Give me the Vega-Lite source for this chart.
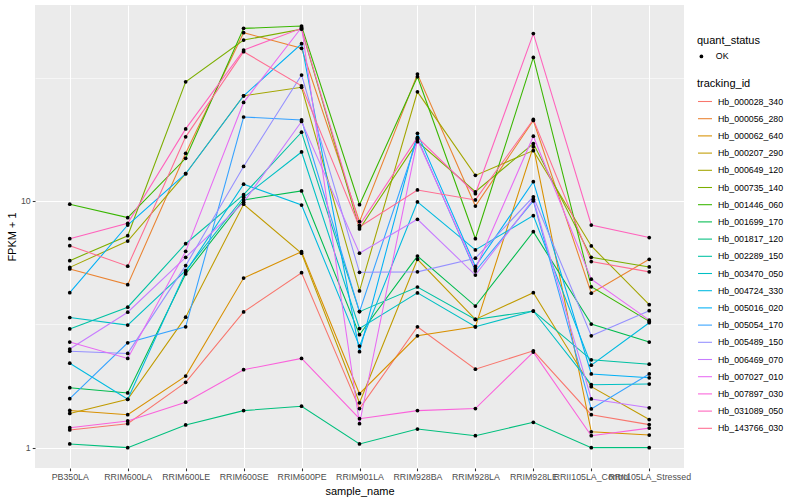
{
"$schema": "https://vega.github.io/schema/vega-lite/v6.json",
"width": 649, "height": 463,
"autosize": {"type": "none"},
"padding": {"left": 35, "top": 5, "right": 116, "bottom": 32},
"background": "white",
"config": {
  "view": {"fill": "#EBEBEB", "stroke": null},
  "font": "Liberation Sans",
  "axis": {"domain": false, "grid": true, "gridColor": "white", "gridWidth": 1.07, "tickColor": "#333333", "tickSize": 2.75, "tickWidth": 1.07, "labelColor": "#4D4D4D", "labelFontSize": 8.8, "titleFontSize": 11, "titleFontWeight": "normal", "titleColor": "black", "labelFont": "Liberation Sans", "titleFont": "Liberation Sans"},
  "legend": {"titleFontSize": 11, "titleFontWeight": "normal", "titleColor": "black", "labelFontSize": 8.8, "labelColor": "black", "padding": 0, "titlePadding": 6, "labelFont": "Liberation Sans", "titleFont": "Liberation Sans"}
},
"data": {"values": [
{"sample_name":"PB350LA","tracking_id":"Hb_000028_340","fpkm":1.18,"quant_status":"OK"},
{"sample_name":"RRIM600LA","tracking_id":"Hb_000028_340","fpkm":1.25,"quant_status":"OK"},
{"sample_name":"RRIM600LE","tracking_id":"Hb_000028_340","fpkm":1.84,"quant_status":"OK"},
{"sample_name":"RRIM600SE","tracking_id":"Hb_000028_340","fpkm":3.55,"quant_status":"OK"},
{"sample_name":"RRIM600PE","tracking_id":"Hb_000028_340","fpkm":5.12,"quant_status":"OK"},
{"sample_name":"RRIM901LA","tracking_id":"Hb_000028_340","fpkm":1.44,"quant_status":"OK"},
{"sample_name":"RRIM928BA","tracking_id":"Hb_000028_340","fpkm":3.09,"quant_status":"OK"},
{"sample_name":"RRIM928LA","tracking_id":"Hb_000028_340","fpkm":2.08,"quant_status":"OK"},
{"sample_name":"RRIM928LE","tracking_id":"Hb_000028_340","fpkm":2.47,"quant_status":"OK"},
{"sample_name":"RRII105LA_Control","tracking_id":"Hb_000028_340","fpkm":1.36,"quant_status":"OK"},
{"sample_name":"RRII105LA_Stressed","tracking_id":"Hb_000028_340","fpkm":1.24,"quant_status":"OK"},
{"sample_name":"PB350LA","tracking_id":"Hb_000056_280","fpkm":5.30,"quant_status":"OK"},
{"sample_name":"RRIM600LA","tracking_id":"Hb_000056_280","fpkm":4.58,"quant_status":"OK"},
{"sample_name":"RRIM600LE","tracking_id":"Hb_000056_280","fpkm":15.6,"quant_status":"OK"},
{"sample_name":"RRIM600SE","tracking_id":"Hb_000056_280","fpkm":48.1,"quant_status":"OK"},
{"sample_name":"RRIM600PE","tracking_id":"Hb_000056_280","fpkm":41.6,"quant_status":"OK"},
{"sample_name":"RRIM901LA","tracking_id":"Hb_000056_280","fpkm":8.25,"quant_status":"OK"},
{"sample_name":"RRIM928BA","tracking_id":"Hb_000056_280","fpkm":32.7,"quant_status":"OK"},
{"sample_name":"RRIM928LA","tracking_id":"Hb_000056_280","fpkm":9.54,"quant_status":"OK"},
{"sample_name":"RRIM928LE","tracking_id":"Hb_000056_280","fpkm":21.2,"quant_status":"OK"},
{"sample_name":"RRII105LA_Control","tracking_id":"Hb_000056_280","fpkm":4.23,"quant_status":"OK"},
{"sample_name":"RRII105LA_Stressed","tracking_id":"Hb_000056_280","fpkm":5.80,"quant_status":"OK"},
{"sample_name":"PB350LA","tracking_id":"Hb_000062_640","fpkm":1.415,"quant_status":"OK"},
{"sample_name":"RRIM600LA","tracking_id":"Hb_000062_640","fpkm":1.36,"quant_status":"OK"},
{"sample_name":"RRIM600LE","tracking_id":"Hb_000062_640","fpkm":1.95,"quant_status":"OK"},
{"sample_name":"RRIM600SE","tracking_id":"Hb_000062_640","fpkm":4.87,"quant_status":"OK"},
{"sample_name":"RRIM600PE","tracking_id":"Hb_000062_640","fpkm":6.23,"quant_status":"OK"},
{"sample_name":"RRIM901LA","tracking_id":"Hb_000062_640","fpkm":1.655,"quant_status":"OK"},
{"sample_name":"RRIM928BA","tracking_id":"Hb_000062_640","fpkm":2.84,"quant_status":"OK"},
{"sample_name":"RRIM928LA","tracking_id":"Hb_000062_640","fpkm":3.09,"quant_status":"OK"},
{"sample_name":"RRIM928LE","tracking_id":"Hb_000062_640","fpkm":16.6,"quant_status":"OK"},
{"sample_name":"RRII105LA_Control","tracking_id":"Hb_000062_640","fpkm":1.16,"quant_status":"OK"},
{"sample_name":"RRII105LA_Stressed","tracking_id":"Hb_000062_640","fpkm":1.125,"quant_status":"OK"},
{"sample_name":"PB350LA","tracking_id":"Hb_000207_290","fpkm":1.376,"quant_status":"OK"},
{"sample_name":"RRIM600LA","tracking_id":"Hb_000207_290","fpkm":1.571,"quant_status":"OK"},
{"sample_name":"RRIM600LE","tracking_id":"Hb_000207_290","fpkm":3.38,"quant_status":"OK"},
{"sample_name":"RRIM600SE","tracking_id":"Hb_000207_290","fpkm":9.70,"quant_status":"OK"},
{"sample_name":"RRIM600PE","tracking_id":"Hb_000207_290","fpkm":6.14,"quant_status":"OK"},
{"sample_name":"RRIM901LA","tracking_id":"Hb_000207_290","fpkm":1.52,"quant_status":"OK"},
{"sample_name":"RRIM928BA","tracking_id":"Hb_000207_290","fpkm":5.80,"quant_status":"OK"},
{"sample_name":"RRIM928LA","tracking_id":"Hb_000207_290","fpkm":3.31,"quant_status":"OK"},
{"sample_name":"RRIM928LE","tracking_id":"Hb_000207_290","fpkm":4.25,"quant_status":"OK"},
{"sample_name":"RRII105LA_Control","tracking_id":"Hb_000207_290","fpkm":1.767,"quant_status":"OK"},
{"sample_name":"RRII105LA_Stressed","tracking_id":"Hb_000207_290","fpkm":1.30,"quant_status":"OK"},
{"sample_name":"PB350LA","tracking_id":"Hb_000649_120","fpkm":5.38,"quant_status":"OK"},
{"sample_name":"RRIM600LA","tracking_id":"Hb_000649_120","fpkm":6.88,"quant_status":"OK"},
{"sample_name":"RRIM600LE","tracking_id":"Hb_000649_120","fpkm":12.9,"quant_status":"OK"},
{"sample_name":"RRIM600SE","tracking_id":"Hb_000649_120","fpkm":26.7,"quant_status":"OK"},
{"sample_name":"RRIM600PE","tracking_id":"Hb_000649_120","fpkm":28.9,"quant_status":"OK"},
{"sample_name":"RRIM901LA","tracking_id":"Hb_000649_120","fpkm":4.32,"quant_status":"OK"},
{"sample_name":"RRIM928BA","tracking_id":"Hb_000649_120","fpkm":27.7,"quant_status":"OK"},
{"sample_name":"RRIM928LA","tracking_id":"Hb_000649_120","fpkm":12.7,"quant_status":"OK"},
{"sample_name":"RRIM928LE","tracking_id":"Hb_000649_120","fpkm":16.0,"quant_status":"OK"},
{"sample_name":"RRII105LA_Control","tracking_id":"Hb_000649_120","fpkm":6.57,"quant_status":"OK"},
{"sample_name":"RRII105LA_Stressed","tracking_id":"Hb_000649_120","fpkm":3.80,"quant_status":"OK"},
{"sample_name":"PB350LA","tracking_id":"Hb_000735_140","fpkm":5.73,"quant_status":"OK"},
{"sample_name":"RRIM600LA","tracking_id":"Hb_000735_140","fpkm":7.23,"quant_status":"OK"},
{"sample_name":"RRIM600LE","tracking_id":"Hb_000735_140","fpkm":30.4,"quant_status":"OK"},
{"sample_name":"RRIM600SE","tracking_id":"Hb_000735_140","fpkm":44.9,"quant_status":"OK"},
{"sample_name":"RRIM600PE","tracking_id":"Hb_000735_140","fpkm":49.7,"quant_status":"OK"},
{"sample_name":"RRIM901LA","tracking_id":"Hb_000735_140","fpkm":7.70,"quant_status":"OK"},
{"sample_name":"RRIM928BA","tracking_id":"Hb_000735_140","fpkm":17.4,"quant_status":"OK"},
{"sample_name":"RRIM928LA","tracking_id":"Hb_000735_140","fpkm":10.9,"quant_status":"OK"},
{"sample_name":"RRIM928LE","tracking_id":"Hb_000735_140","fpkm":17.1,"quant_status":"OK"},
{"sample_name":"RRII105LA_Control","tracking_id":"Hb_000735_140","fpkm":5.91,"quant_status":"OK"},
{"sample_name":"RRII105LA_Stressed","tracking_id":"Hb_000735_140","fpkm":5.40,"quant_status":"OK"},
{"sample_name":"PB350LA","tracking_id":"Hb_001446_060","fpkm":9.70,"quant_status":"OK"},
{"sample_name":"RRIM600LA","tracking_id":"Hb_001446_060","fpkm":8.56,"quant_status":"OK"},
{"sample_name":"RRIM600LE","tracking_id":"Hb_001446_060","fpkm":14.9,"quant_status":"OK"},
{"sample_name":"RRIM600SE","tracking_id":"Hb_001446_060","fpkm":50.1,"quant_status":"OK"},
{"sample_name":"RRIM600PE","tracking_id":"Hb_001446_060","fpkm":51.2,"quant_status":"OK"},
{"sample_name":"RRIM901LA","tracking_id":"Hb_001446_060","fpkm":9.66,"quant_status":"OK"},
{"sample_name":"RRIM928BA","tracking_id":"Hb_001446_060","fpkm":31.9,"quant_status":"OK"},
{"sample_name":"RRIM928LA","tracking_id":"Hb_001446_060","fpkm":7.03,"quant_status":"OK"},
{"sample_name":"RRIM928LE","tracking_id":"Hb_001446_060","fpkm":38.2,"quant_status":"OK"},
{"sample_name":"RRII105LA_Control","tracking_id":"Hb_001446_060","fpkm":4.49,"quant_status":"OK"},
{"sample_name":"RRII105LA_Stressed","tracking_id":"Hb_001446_060","fpkm":3.25,"quant_status":"OK"},
{"sample_name":"PB350LA","tracking_id":"Hb_001699_170","fpkm":1.75,"quant_status":"OK"},
{"sample_name":"RRIM600LA","tracking_id":"Hb_001699_170","fpkm":1.666,"quant_status":"OK"},
{"sample_name":"RRIM600LE","tracking_id":"Hb_001699_170","fpkm":5.06,"quant_status":"OK"},
{"sample_name":"RRIM600SE","tracking_id":"Hb_001699_170","fpkm":10.1,"quant_status":"OK"},
{"sample_name":"RRIM600PE","tracking_id":"Hb_001699_170","fpkm":10.98,"quant_status":"OK"},
{"sample_name":"RRIM901LA","tracking_id":"Hb_001699_170","fpkm":2.87,"quant_status":"OK"},
{"sample_name":"RRIM928BA","tracking_id":"Hb_001699_170","fpkm":5.98,"quant_status":"OK"},
{"sample_name":"RRIM928LA","tracking_id":"Hb_001699_170","fpkm":3.75,"quant_status":"OK"},
{"sample_name":"RRIM928LE","tracking_id":"Hb_001699_170","fpkm":7.51,"quant_status":"OK"},
{"sample_name":"RRII105LA_Control","tracking_id":"Hb_001699_170","fpkm":3.17,"quant_status":"OK"},
{"sample_name":"RRII105LA_Stressed","tracking_id":"Hb_001699_170","fpkm":2.68,"quant_status":"OK"},
{"sample_name":"PB350LA","tracking_id":"Hb_001817_120","fpkm":1.035,"quant_status":"OK"},
{"sample_name":"RRIM600LA","tracking_id":"Hb_001817_120","fpkm":1.0,"quant_status":"OK"},
{"sample_name":"RRIM600LE","tracking_id":"Hb_001817_120","fpkm":1.236,"quant_status":"OK"},
{"sample_name":"RRIM600SE","tracking_id":"Hb_001817_120","fpkm":1.413,"quant_status":"OK"},
{"sample_name":"RRIM600PE","tracking_id":"Hb_001817_120","fpkm":1.472,"quant_status":"OK"},
{"sample_name":"RRIM901LA","tracking_id":"Hb_001817_120","fpkm":1.035,"quant_status":"OK"},
{"sample_name":"RRIM928BA","tracking_id":"Hb_001817_120","fpkm":1.19,"quant_status":"OK"},
{"sample_name":"RRIM928LA","tracking_id":"Hb_001817_120","fpkm":1.118,"quant_status":"OK"},
{"sample_name":"RRIM928LE","tracking_id":"Hb_001817_120","fpkm":1.267,"quant_status":"OK"},
{"sample_name":"RRII105LA_Control","tracking_id":"Hb_001817_120","fpkm":1.0,"quant_status":"OK"},
{"sample_name":"RRII105LA_Stressed","tracking_id":"Hb_001817_120","fpkm":1.0,"quant_status":"OK"},
{"sample_name":"PB350LA","tracking_id":"Hb_002289_150","fpkm":3.03,"quant_status":"OK"},
{"sample_name":"RRIM600LA","tracking_id":"Hb_002289_150","fpkm":3.71,"quant_status":"OK"},
{"sample_name":"RRIM600LE","tracking_id":"Hb_002289_150","fpkm":6.71,"quant_status":"OK"},
{"sample_name":"RRIM600SE","tracking_id":"Hb_002289_150","fpkm":10.6,"quant_status":"OK"},
{"sample_name":"RRIM600PE","tracking_id":"Hb_002289_150","fpkm":19.0,"quant_status":"OK"},
{"sample_name":"RRIM901LA","tracking_id":"Hb_002289_150","fpkm":3.56,"quant_status":"OK"},
{"sample_name":"RRIM928BA","tracking_id":"Hb_002289_150","fpkm":4.48,"quant_status":"OK"},
{"sample_name":"RRIM928LA","tracking_id":"Hb_002289_150","fpkm":3.31,"quant_status":"OK"},
{"sample_name":"RRIM928LE","tracking_id":"Hb_002289_150","fpkm":3.58,"quant_status":"OK"},
{"sample_name":"RRII105LA_Control","tracking_id":"Hb_002289_150","fpkm":2.27,"quant_status":"OK"},
{"sample_name":"RRII105LA_Stressed","tracking_id":"Hb_002289_150","fpkm":2.18,"quant_status":"OK"},
{"sample_name":"PB350LA","tracking_id":"Hb_003470_050","fpkm":3.37,"quant_status":"OK"},
{"sample_name":"RRIM600LA","tracking_id":"Hb_003470_050","fpkm":3.14,"quant_status":"OK"},
{"sample_name":"RRIM600LE","tracking_id":"Hb_003470_050","fpkm":5.22,"quant_status":"OK"},
{"sample_name":"RRIM600SE","tracking_id":"Hb_003470_050","fpkm":10.35,"quant_status":"OK"},
{"sample_name":"RRIM600PE","tracking_id":"Hb_003470_050","fpkm":15.8,"quant_status":"OK"},
{"sample_name":"RRIM901LA","tracking_id":"Hb_003470_050","fpkm":3.04,"quant_status":"OK"},
{"sample_name":"RRIM928BA","tracking_id":"Hb_003470_050","fpkm":4.24,"quant_status":"OK"},
{"sample_name":"RRIM928LA","tracking_id":"Hb_003470_050","fpkm":3.09,"quant_status":"OK"},
{"sample_name":"RRIM928LE","tracking_id":"Hb_003470_050","fpkm":3.58,"quant_status":"OK"},
{"sample_name":"RRII105LA_Control","tracking_id":"Hb_003470_050","fpkm":1.80,"quant_status":"OK"},
{"sample_name":"RRII105LA_Stressed","tracking_id":"Hb_003470_050","fpkm":1.81,"quant_status":"OK"},
{"sample_name":"PB350LA","tracking_id":"Hb_004724_330","fpkm":2.20,"quant_status":"OK"},
{"sample_name":"RRIM600LA","tracking_id":"Hb_004724_330","fpkm":1.571,"quant_status":"OK"},
{"sample_name":"RRIM600LE","tracking_id":"Hb_004724_330","fpkm":5.16,"quant_status":"OK"},
{"sample_name":"RRIM600SE","tracking_id":"Hb_004724_330","fpkm":11.7,"quant_status":"OK"},
{"sample_name":"RRIM600PE","tracking_id":"Hb_004724_330","fpkm":9.63,"quant_status":"OK"},
{"sample_name":"RRIM901LA","tracking_id":"Hb_004724_330","fpkm":2.58,"quant_status":"OK"},
{"sample_name":"RRIM928BA","tracking_id":"Hb_004724_330","fpkm":9.91,"quant_status":"OK"},
{"sample_name":"RRIM928LA","tracking_id":"Hb_004724_330","fpkm":6.33,"quant_status":"OK"},
{"sample_name":"RRIM928LE","tracking_id":"Hb_004724_330","fpkm":8.72,"quant_status":"OK"},
{"sample_name":"RRII105LA_Control","tracking_id":"Hb_004724_330","fpkm":2.16,"quant_status":"OK"},
{"sample_name":"RRII105LA_Stressed","tracking_id":"Hb_004724_330","fpkm":3.21,"quant_status":"OK"},
{"sample_name":"PB350LA","tracking_id":"Hb_005016_020","fpkm":4.25,"quant_status":"OK"},
{"sample_name":"RRIM600LA","tracking_id":"Hb_005016_020","fpkm":7.99,"quant_status":"OK"},
{"sample_name":"RRIM600LE","tracking_id":"Hb_005016_020","fpkm":12.9,"quant_status":"OK"},
{"sample_name":"RRIM600SE","tracking_id":"Hb_005016_020","fpkm":26.7,"quant_status":"OK"},
{"sample_name":"RRIM600PE","tracking_id":"Hb_005016_020","fpkm":43.4,"quant_status":"OK"},
{"sample_name":"RRIM901LA","tracking_id":"Hb_005016_020","fpkm":2.45,"quant_status":"OK"},
{"sample_name":"RRIM928BA","tracking_id":"Hb_005016_020","fpkm":18.8,"quant_status":"OK"},
{"sample_name":"RRIM928LA","tracking_id":"Hb_005016_020","fpkm":5.43,"quant_status":"OK"},
{"sample_name":"RRIM928LE","tracking_id":"Hb_005016_020","fpkm":11.98,"quant_status":"OK"},
{"sample_name":"RRII105LA_Control","tracking_id":"Hb_005016_020","fpkm":1.99,"quant_status":"OK"},
{"sample_name":"RRII105LA_Stressed","tracking_id":"Hb_005016_020","fpkm":1.92,"quant_status":"OK"},
{"sample_name":"PB350LA","tracking_id":"Hb_005054_170","fpkm":1.58,"quant_status":"OK"},
{"sample_name":"RRIM600LA","tracking_id":"Hb_005054_170","fpkm":2.66,"quant_status":"OK"},
{"sample_name":"RRIM600LE","tracking_id":"Hb_005054_170","fpkm":3.09,"quant_status":"OK"},
{"sample_name":"RRIM600SE","tracking_id":"Hb_005054_170","fpkm":21.9,"quant_status":"OK"},
{"sample_name":"RRIM600PE","tracking_id":"Hb_005054_170","fpkm":21.3,"quant_status":"OK"},
{"sample_name":"RRIM901LA","tracking_id":"Hb_005054_170","fpkm":3.56,"quant_status":"OK"},
{"sample_name":"RRIM928BA","tracking_id":"Hb_005054_170","fpkm":17.9,"quant_status":"OK"},
{"sample_name":"RRIM928LA","tracking_id":"Hb_005054_170","fpkm":5.20,"quant_status":"OK"},
{"sample_name":"RRIM928LE","tracking_id":"Hb_005054_170","fpkm":10.0,"quant_status":"OK"},
{"sample_name":"RRII105LA_Control","tracking_id":"Hb_005054_170","fpkm":1.435,"quant_status":"OK"},
{"sample_name":"RRII105LA_Stressed","tracking_id":"Hb_005054_170","fpkm":1.99,"quant_status":"OK"},
{"sample_name":"PB350LA","tracking_id":"Hb_005489_150","fpkm":2.46,"quant_status":"OK"},
{"sample_name":"RRIM600LA","tracking_id":"Hb_005489_150","fpkm":2.41,"quant_status":"OK"},
{"sample_name":"RRIM600LE","tracking_id":"Hb_005489_150","fpkm":5.47,"quant_status":"OK"},
{"sample_name":"RRIM600SE","tracking_id":"Hb_005489_150","fpkm":13.8,"quant_status":"OK"},
{"sample_name":"RRIM600PE","tracking_id":"Hb_005489_150","fpkm":32.4,"quant_status":"OK"},
{"sample_name":"RRIM901LA","tracking_id":"Hb_005489_150","fpkm":5.14,"quant_status":"OK"},
{"sample_name":"RRIM928BA","tracking_id":"Hb_005489_150","fpkm":5.16,"quant_status":"OK"},
{"sample_name":"RRIM928LA","tracking_id":"Hb_005489_150","fpkm":5.86,"quant_status":"OK"},
{"sample_name":"RRIM928LE","tracking_id":"Hb_005489_150","fpkm":10.4,"quant_status":"OK"},
{"sample_name":"RRII105LA_Control","tracking_id":"Hb_005489_150","fpkm":2.84,"quant_status":"OK"},
{"sample_name":"RRII105LA_Stressed","tracking_id":"Hb_005489_150","fpkm":3.59,"quant_status":"OK"},
{"sample_name":"PB350LA","tracking_id":"Hb_006469_070","fpkm":2.51,"quant_status":"OK"},
{"sample_name":"RRIM600LA","tracking_id":"Hb_006469_070","fpkm":3.54,"quant_status":"OK"},
{"sample_name":"RRIM600LE","tracking_id":"Hb_006469_070","fpkm":5.91,"quant_status":"OK"},
{"sample_name":"RRIM600SE","tracking_id":"Hb_006469_070","fpkm":9.88,"quant_status":"OK"},
{"sample_name":"RRIM600PE","tracking_id":"Hb_006469_070","fpkm":21.0,"quant_status":"OK"},
{"sample_name":"RRIM901LA","tracking_id":"Hb_006469_070","fpkm":6.14,"quant_status":"OK"},
{"sample_name":"RRIM928BA","tracking_id":"Hb_006469_070","fpkm":8.43,"quant_status":"OK"},
{"sample_name":"RRIM928LA","tracking_id":"Hb_006469_070","fpkm":5.01,"quant_status":"OK"},
{"sample_name":"RRIM928LE","tracking_id":"Hb_006469_070","fpkm":10.16,"quant_status":"OK"},
{"sample_name":"RRII105LA_Control","tracking_id":"Hb_006469_070","fpkm":1.576,"quant_status":"OK"},
{"sample_name":"RRII105LA_Stressed","tracking_id":"Hb_006469_070","fpkm":1.45,"quant_status":"OK"},
{"sample_name":"PB350LA","tracking_id":"Hb_007027_010","fpkm":2.68,"quant_status":"OK"},
{"sample_name":"RRIM600LA","tracking_id":"Hb_007027_010","fpkm":2.30,"quant_status":"OK"},
{"sample_name":"RRIM600LE","tracking_id":"Hb_007027_010","fpkm":6.25,"quant_status":"OK"},
{"sample_name":"RRIM600SE","tracking_id":"Hb_007027_010","fpkm":25.1,"quant_status":"OK"},
{"sample_name":"RRIM600PE","tracking_id":"Hb_007027_010","fpkm":50.5,"quant_status":"OK"},
{"sample_name":"RRIM901LA","tracking_id":"Hb_007027_010","fpkm":1.25,"quant_status":"OK"},
{"sample_name":"RRIM928BA","tracking_id":"Hb_007027_010","fpkm":17.7,"quant_status":"OK"},
{"sample_name":"RRIM928LA","tracking_id":"Hb_007027_010","fpkm":5.30,"quant_status":"OK"},
{"sample_name":"RRIM928LE","tracking_id":"Hb_007027_010","fpkm":18.3,"quant_status":"OK"},
{"sample_name":"RRII105LA_Control","tracking_id":"Hb_007027_010","fpkm":4.82,"quant_status":"OK"},
{"sample_name":"RRII105LA_Stressed","tracking_id":"Hb_007027_010","fpkm":3.29,"quant_status":"OK"},
{"sample_name":"PB350LA","tracking_id":"Hb_007897_030","fpkm":1.205,"quant_status":"OK"},
{"sample_name":"RRIM600LA","tracking_id":"Hb_007897_030","fpkm":1.283,"quant_status":"OK"},
{"sample_name":"RRIM600LE","tracking_id":"Hb_007897_030","fpkm":1.528,"quant_status":"OK"},
{"sample_name":"RRIM600SE","tracking_id":"Hb_007897_030","fpkm":2.07,"quant_status":"OK"},
{"sample_name":"RRIM600PE","tracking_id":"Hb_007897_030","fpkm":2.30,"quant_status":"OK"},
{"sample_name":"RRIM901LA","tracking_id":"Hb_007897_030","fpkm":1.31,"quant_status":"OK"},
{"sample_name":"RRIM928BA","tracking_id":"Hb_007897_030","fpkm":1.413,"quant_status":"OK"},
{"sample_name":"RRIM928LA","tracking_id":"Hb_007897_030","fpkm":1.44,"quant_status":"OK"},
{"sample_name":"RRIM928LE","tracking_id":"Hb_007897_030","fpkm":2.44,"quant_status":"OK"},
{"sample_name":"RRII105LA_Control","tracking_id":"Hb_007897_030","fpkm":1.118,"quant_status":"OK"},
{"sample_name":"RRII105LA_Stressed","tracking_id":"Hb_007897_030","fpkm":1.20,"quant_status":"OK"},
{"sample_name":"PB350LA","tracking_id":"Hb_031089_050","fpkm":7.03,"quant_status":"OK"},
{"sample_name":"RRIM600LA","tracking_id":"Hb_031089_050","fpkm":8.12,"quant_status":"OK"},
{"sample_name":"RRIM600LE","tracking_id":"Hb_031089_050","fpkm":19.6,"quant_status":"OK"},
{"sample_name":"RRIM600SE","tracking_id":"Hb_031089_050","fpkm":40.9,"quant_status":"OK"},
{"sample_name":"RRIM600PE","tracking_id":"Hb_031089_050","fpkm":50.1,"quant_status":"OK"},
{"sample_name":"RRIM901LA","tracking_id":"Hb_031089_050","fpkm":7.97,"quant_status":"OK"},
{"sample_name":"RRIM928BA","tracking_id":"Hb_031089_050","fpkm":18.1,"quant_status":"OK"},
{"sample_name":"RRIM928LA","tracking_id":"Hb_031089_050","fpkm":10.7,"quant_status":"OK"},
{"sample_name":"RRIM928LE","tracking_id":"Hb_031089_050","fpkm":47.7,"quant_status":"OK"},
{"sample_name":"RRII105LA_Control","tracking_id":"Hb_031089_050","fpkm":7.99,"quant_status":"OK"},
{"sample_name":"RRII105LA_Stressed","tracking_id":"Hb_031089_050","fpkm":7.11,"quant_status":"OK"},
{"sample_name":"PB350LA","tracking_id":"Hb_143766_030","fpkm":6.59,"quant_status":"OK"},
{"sample_name":"RRIM600LA","tracking_id":"Hb_143766_030","fpkm":5.44,"quant_status":"OK"},
{"sample_name":"RRIM600LE","tracking_id":"Hb_143766_030","fpkm":18.2,"quant_status":"OK"},
{"sample_name":"RRIM600SE","tracking_id":"Hb_143766_030","fpkm":40.3,"quant_status":"OK"},
{"sample_name":"RRIM600PE","tracking_id":"Hb_143766_030","fpkm":29.3,"quant_status":"OK"},
{"sample_name":"RRIM901LA","tracking_id":"Hb_143766_030","fpkm":7.85,"quant_status":"OK"},
{"sample_name":"RRIM928BA","tracking_id":"Hb_143766_030","fpkm":11.08,"quant_status":"OK"},
{"sample_name":"RRIM928LA","tracking_id":"Hb_143766_030","fpkm":10.1,"quant_status":"OK"},
{"sample_name":"RRIM928LE","tracking_id":"Hb_143766_030","fpkm":21.4,"quant_status":"OK"},
{"sample_name":"RRII105LA_Control","tracking_id":"Hb_143766_030","fpkm":5.68,"quant_status":"OK"},
{"sample_name":"RRII105LA_Stressed","tracking_id":"Hb_143766_030","fpkm":5.16,"quant_status":"OK"}
]},
"encoding": {
  "x": {"field": "sample_name", "type": "nominal", "sort": null,
        "scale": {"type": "point", "padding": 0.6, "domain": ["PB350LA","RRIM600LA","RRIM600LE","RRIM600SE","RRIM600PE","RRIM901LA","RRIM928BA","RRIM928LA","RRIM928LE","RRII105LA_Control","RRII105LA_Stressed"]},
        "axis": {"title": "sample_name", "labelAngle": 0, "labelOverlap": false, "labelBound": false, "labelFlush": false, "labelPadding": 2, "titlePadding": 4}},
  "y": {"field": "fpkm", "type": "quantitative",
        "scale": {"type": "log", "domain": [0.827, 62.3], "nice": false, "zero": false},
        "axis": {"title": "FPKM + 1", "values": [1, 3.1623, 10, 31.623], "labelExpr": "(datum.value > 2 && datum.value < 5) || datum.value > 20 ? '' : datum.label",
                 "tickOpacity": {"condition": {"test": "(datum.value > 2 && datum.value < 5) || datum.value > 20", "value": 0}, "value": 1},
                 "gridWidth": {"condition": {"test": "(datum.value > 2 && datum.value < 5) || datum.value > 20", "value": 0.55}, "value": 1.07},
                 "labelPadding": 2, "titlePadding": 3}}
},
"layer": [
  {"mark": {"type": "line", "strokeWidth": 1.07},
   "encoding": {
     "color": {"field": "tracking_id", "type": "nominal",
               "scale": {"range": ["#F8766D","#EA8331","#D89000","#C09B00","#A3A500","#7CAE00","#39B600","#00BB4E","#00BF7D","#00C1A3","#00BFC4","#00BAE0","#00B0F6","#35A2FF","#9590FF","#C77CFF","#E76BF3","#FA62DB","#FF62BC","#FF6C91"]},
               "legend": {"title": "tracking_id", "orient": "none", "legendX": 662, "legendY": 73, "titlePadding": 4.5, "symbolType": "stroke", "symbolSize": 196, "symbolStrokeWidth": 1.07, "rowPadding": 4.2, "labelOffset": 5}},
     "order": {"value": null}
   }},
  {"mark": {"type": "point", "filled": true, "color": "black", "size": 14, "opacity": 1},
   "encoding": {
     "shape": {"field": "quant_status", "type": "nominal", "scale": {"range": ["circle"]},
               "legend": {"title": "quant_status", "orient": "none", "legendX": 662, "legendY": 30, "symbolFillColor": "black", "symbolStrokeColor": "black", "symbolSize": 14, "labelOffset": 10}}
   }}
]
}
